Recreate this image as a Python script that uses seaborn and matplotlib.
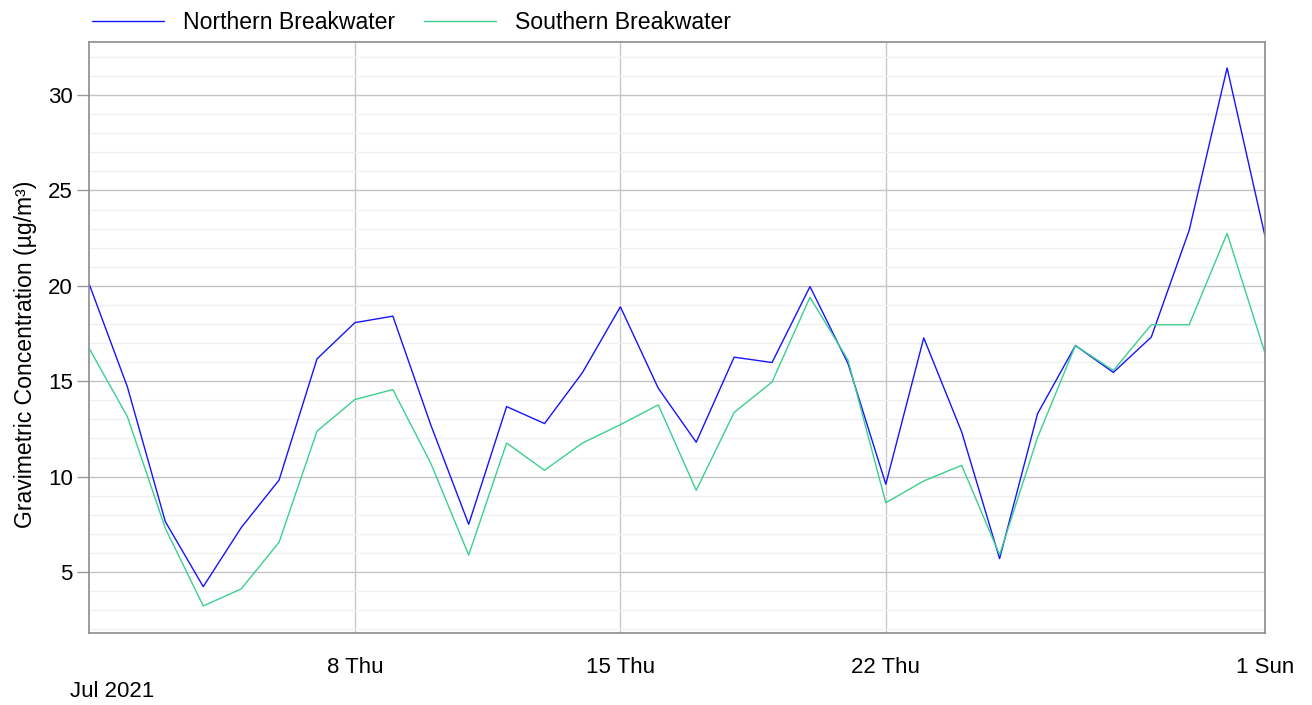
import pandas as pd
import matplotlib
matplotlib.use("Agg")
import matplotlib.pyplot as plt
import matplotlib.dates as mdates
from matplotlib.ticker import MultipleLocator
import seaborn as sns

# daily values, 1 Jul 2021 .. 1 Aug 2021
dates = pd.date_range("2021-07-01", "2021-08-01", freq="D")
northern = [20.05, 14.7, 7.64, 4.23, 7.32, 9.82, 16.17, 18.07, 18.41, 12.71,
            7.50, 13.67, 12.78, 15.45, 18.90, 14.63, 11.80, 16.26, 15.98, 19.96,
            15.94, 9.60, 17.27, 12.34, 5.70, 13.29, 16.87, 15.46, 17.31, 22.91,
            31.42, 22.60]
southern = [16.69, 13.14, 7.29, 3.22, 4.11, 6.56, 12.38, 14.04, 14.56, 10.70,
            5.89, 11.76, 10.33, 11.76, 12.72, 13.76, 9.28, 13.36, 14.96, 19.40,
            16.12, 8.63, 9.77, 10.59, 5.90, 12.04, 16.87, 15.56, 17.96, 17.96,
            22.75, 16.47]
series_names = ["Northern Breakwater", "Southern Breakwater"]
colors = ["#1414ff", "#3ccf8e"]

df = pd.DataFrame({"date": list(dates) * 2,
                   "value": northern + southern,
                   "site": [series_names[0]] * len(dates) + [series_names[1]] * len(dates)})

sns.set_style("white")
plt.rcParams["font.family"] = ["Liberation Sans", "DejaVu Sans"]
plt.rcParams["text.color"] = "black"
plt.rcParams["xtick.labelcolor"] = "black"
plt.rcParams["ytick.labelcolor"] = "black"
plt.rcParams["axes.labelcolor"] = "black"

fs = 16

fig = plt.figure(figsize=(13.12, 7.05), dpi=100)
ax = fig.add_axes([0.0682, 0.1021, 0.8960, 0.8383])

sns.lineplot(data=df, x="date", y="value", hue="site", palette=colors,
             linewidth=1.0, ax=ax, legend=True)

ax.set_xlim(dates[0], dates[-1])
ax.set_ylim(1.8, 32.78)

# y grid
ax.yaxis.set_major_locator(MultipleLocator(5))
ax.yaxis.set_minor_locator(MultipleLocator(1))
ax.grid(which="major", axis="y", color="#c4c4c4", linewidth=1.0)
ax.grid(which="minor", axis="y", color="#f0f0f0", linewidth=1.0)

# x ticks
major_days = pd.to_datetime(["2021-07-08", "2021-07-15", "2021-07-22", "2021-08-01"])
ax.set_xticks(major_days)
ax.xaxis.set_major_formatter(mdates.DateFormatter("%-d %a"))
ax.xaxis.set_minor_locator(mdates.DayLocator())
ax.grid(which="major", axis="x", color="#c8c8c8", linewidth=1.0)
ax.set_axisbelow(True)

ax.tick_params(axis="x", which="major", direction="out", length=14, width=1,
               color="#c8c8c8", labelsize=fs, pad=3)
ax.tick_params(axis="x", which="minor", direction="in", length=10, width=1,
               color="#b4b4b4")
ax.tick_params(axis="y", which="major", direction="out", length=9, width=1,
               color="#999999", labelsize=fs, pad=3, left=True)
ax.tick_params(axis="y", which="minor", left=False)

for s in ax.spines.values():
    s.set_color("#8c8c8c")
    s.set_linewidth(1.2)

ax.set_xlabel("")
ax.set_ylabel("Gravimetric Concentration (µg/m³)", fontsize=16.6)
ax.yaxis.set_label_coords(-0.0448, 0.472)

ax.annotate("Jul 2021", xy=(dates[0], 0), xycoords=("data", "axes fraction"),
            xytext=(-14, -49.5), textcoords="offset points", fontsize=fs,
            ha="left", va="bottom")

leg = ax.legend(loc="lower left", bbox_to_anchor=(-0.0055, 0.998), ncol=2,
                frameon=False, fontsize=16.6, handlelength=3.1,
                handletextpad=0.85, columnspacing=1.25, borderaxespad=0.0)

fig.savefig("out.png", dpi=100)
